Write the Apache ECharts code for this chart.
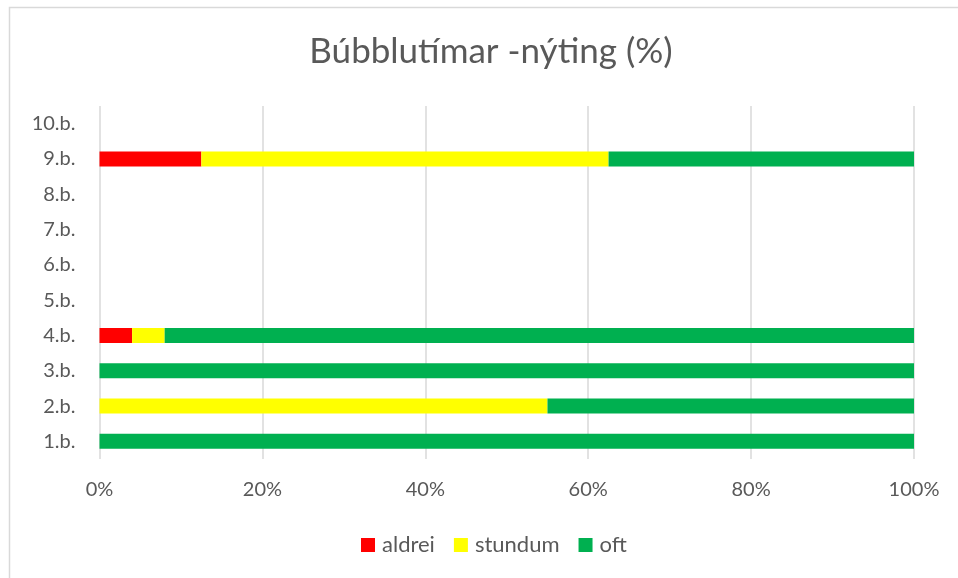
<!DOCTYPE html>
<html>
<head>
<meta charset="utf-8">
<script src="https://cdn.jsdelivr.net/npm/echarts@6/dist/echarts.min.js"></script>
<style>
html,body{margin:0;padding:0;background:#fff;}
#c{width:958px;height:578px;}
</style>
</head>
<body>
<div id="c"></div>
<script>
var categories = ['1.b.', '2.b.', '3.b.', '4.b.', '5.b.', '6.b.', '7.b.', '8.b.', '9.b.', '10.b.'];
var aldrei  = [0, 0, 0, 4, null, null, null, null, 12.5, null];
var stundum = [0, 55, 0, 4, null, null, null, null, 50, null];
var oft     = [100, 45, 100, 92, null, null, null, null, 37.5, null];
var xTicks = [0, 20, 40, 60, 80, 100];

var FONT = 'Lato';
var TXT = '#595959';
var chart = echarts.init(document.getElementById('c'), null, {renderer: 'canvas'});
chart.setOption({
  animation: false,
  backgroundColor: '#fff',
  textStyle: {fontFamily: FONT},
  title: {
    text: 'Búbblutímar -nýting (%)',
    left: 486,
    textAlign: 'center',
    top: 29,
    textStyle: {fontFamily: FONT, fontSize: 35, fontWeight: 'normal', color: TXT}
  },
  graphic: [{
    type: 'rect',
    shape: {x: 9.5, y: 7.5, width: 1000, height: 1000},
    style: {fill: 'none', stroke: '#d9d9d9', lineWidth: 1.5},
    silent: true
  }],
  legend: {
    left: 356,
    top: 529,
    itemWidth: 14,
    itemHeight: 14,
    itemGap: 19,
    icon: 'rect',
    textStyle: {fontFamily: FONT, fontSize: 22, color: TXT, padding: [0, 0, 0, 2]},
    data: ['aldrei', 'stundum', 'oft']
  },
  grid: {left: 99.5, right: 44, top: 106, bottom: 119, containLabel: false},
  xAxis: {
    type: 'value',
    min: 0,
    max: 100,
    interval: 20,
    axisLine: {show: false},
    axisTick: {show: false},
    splitLine: {show: true, lineStyle: {color: '#d9d9d9', width: 1.5}},
    axisLabel: {
      margin: 21,
      fontFamily: FONT,
      fontSize: 20,
      color: TXT,
      formatter: function (v) { return xTicks.indexOf(v) >= 0 ? v + '%' : ''; }
    }
  },
  yAxis: {
    type: 'category',
    data: categories,
    axisLine: {show: false},
    axisTick: {show: false},
    splitLine: {show: false},
    axisLabel: {margin: 24, fontFamily: FONT, fontSize: 20, color: TXT}
  },
  series: [
    {name: 'aldrei', type: 'bar', stack: 'a', data: aldrei, barWidth: 15, itemStyle: {color: '#FF0000'}},
    {name: 'stundum', type: 'bar', stack: 'a', data: stundum, barWidth: 15, itemStyle: {color: '#FFFF00'}},
    {name: 'oft', type: 'bar', stack: 'a', data: oft, barWidth: 15, itemStyle: {color: '#00B050'}}
  ]
});
</script>
</body>
</html>
